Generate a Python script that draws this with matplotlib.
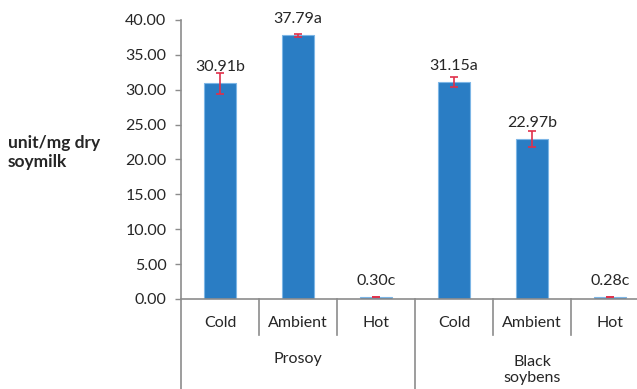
"""Bar chart of enzyme activity by soaking temperature for two soybean types."""

import matplotlib

matplotlib.use("Agg")
import matplotlib.pyplot as plt
from matplotlib import transforms

plt.rcParams["font.family"] = ["Lato", "DejaVu Sans"]

temps = ["Cold", "Ambient", "Hot", "Cold", "Ambient", "Hot"]
groups = ["Prosoy", "Black\nsoybens"]
values = [30.91, 37.79, 0.30, 31.15, 22.97, 0.28]
errors = [1.5, 0.2, 0.05, 0.7, 1.15, 0.05]
letters = ["b", "a", "c", "a", "b", "c"]
yticks = [0, 5, 10, 15, 20, 25, 30, 35, 40]

BAR = "#2A7DC4"
EDGE = "#7DB6E6"
ERR = "#E0304A"
GRID = "#8C8C8C"
TEXT = "#262626"

fig = plt.figure(figsize=(6.37, 3.89), dpi=100)
ax = fig.add_axes([0.2841, 0.2314, 0.7347, 0.7172])

x = list(range(len(values)))
ax.bar(x, values, width=0.40, color=BAR, edgecolor=EDGE, linewidth=0.8, zorder=2)
ax.errorbar(x, values, yerr=errors, fmt="none", ecolor=ERR, elinewidth=1.2,
            capsize=3, capthick=1.2, zorder=3)

for xi, v, l in zip(x, values, letters):
    ax.annotate(f"{v:.2f}{l}", (xi, v), xytext=(0, 11.5), textcoords="offset points",
                ha="center", va="center", fontsize=11.5, color=TEXT)

ax.set_xlim(-0.5, 5.5)
ax.set_ylim(0, 40)
ax.set_yticks(yticks)
ax.set_yticklabels([f"{t:.2f}" for t in yticks], fontsize=11.5, color=TEXT)
ax.tick_params(axis="y", direction="out", length=4.5, width=1, color=GRID, pad=6)
ax.set_xticks([])
for side in ["top", "right"]:
    ax.spines[side].set_visible(False)
ax.spines["left"].set_visible(False)
ax.spines["bottom"].set_color(GRID)
ax.spines["bottom"].set_linewidth(1.2)

# two-level category axis drawn by hand
trans = transforms.blended_transform_factory(ax.transData, ax.transAxes)
for sx in [0.5, 1.5, 3.5, 4.5]:
    ax.plot([sx, sx], [0, -0.129], transform=trans, color=GRID, lw=1.2, clip_on=False)
ax.plot([-0.5, -0.5], [1, -0.33], transform=trans, color=GRID, lw=1.2, clip_on=False)
ax.plot([2.5, 2.5], [0, -0.33], transform=trans, color=GRID, lw=1.2, clip_on=False)

for xi, t in zip(x, temps):
    ax.text(xi, -0.086, t, transform=trans, ha="center", va="center",
            fontsize=11.5, color=TEXT)
ax.text(1, -0.215, groups[0], transform=trans, ha="center", va="center",
        fontsize=11.5, color=TEXT)
ax.text(4, -0.254, groups[1], transform=trans, ha="center", va="center",
        fontsize=11.5, color=TEXT, linespacing=1.15)

fig.text(0.0125, 0.608, "unit/mg dry\nsoymilk", ha="left", va="center",
         fontsize=12.5, fontweight="bold", color=TEXT, linespacing=1.3)

fig.savefig("out.png", dpi=100)
